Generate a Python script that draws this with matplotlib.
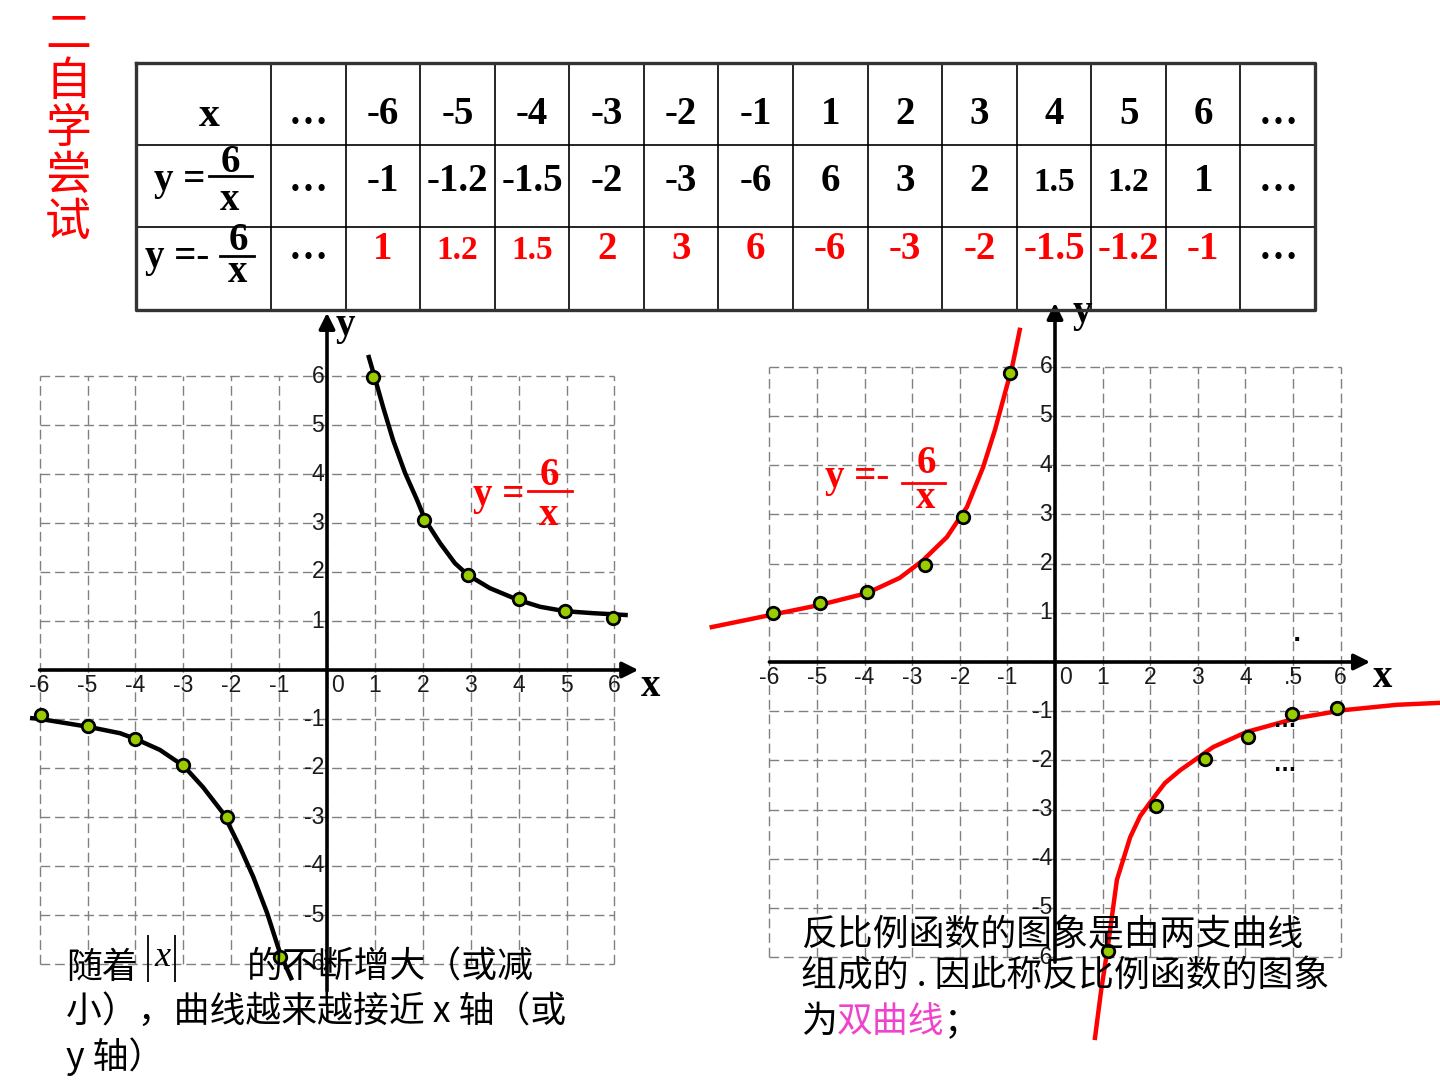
import matplotlib
matplotlib.use("Agg")
import matplotlib.pyplot as plt

# ---- table content ----
x_vals = ["-6", "-5", "-4", "-3", "-2", "-1", "1", "2", "3", "4", "5", "6"]
y_pos_vals = ["-1", "-1.2", "-1.5", "-2", "-3", "-6", "6", "3", "2", "1.5", "1.2", "1"]
y_neg_vals = ["1", "1.2", "1.5", "2", "3", "6", "-6", "-3", "-2", "-1.5", "-1.2", "-1"]
title_chars = "二自学尝试"

# ---- left graph: y = 6/x ----
left_pts_x = [-5.98, -4.99, -4.0, -3.0, -2.09, -0.98, 0.96, 2.03, 2.94, 4.01, 4.97, 5.97]
left_pts_y = [-0.92, -1.14, -1.41, -1.94, -3.0, -5.86, 5.98, 3.06, 1.94, 1.45, 1.2, 1.06]
left_curve1_x = [0.86, 1.0, 1.17, 1.38, 1.63, 1.88, 2.05, 2.36, 2.67, 2.94, 3.4, 3.99, 4.45, 4.97, 5.55, 6.28]
left_curve1_y = [6.43, 5.96, 5.37, 4.69, 4.02, 3.47, 3.06, 2.59, 2.18, 1.94, 1.67, 1.43, 1.29, 1.2, 1.16, 1.12]
left_curve2_x = [-6.2, -5.98, -4.98, -4.32, -3.99, -3.49, -2.99, -2.59, -2.17, -1.82, -1.54, -1.25, -0.98, -0.73]
left_curve2_y = [-0.98, -1.0, -1.16, -1.29, -1.41, -1.63, -1.96, -2.39, -2.92, -3.61, -4.22, -4.96, -5.78, -6.33]

# ---- right graph: y = -6/x ----
right_pts_x = [-5.92, -4.94, -3.95, -2.73, -1.93, -0.95, 1.11, 2.12, 3.15, 4.05, 4.98, 5.92]
right_pts_y = [1.0, 1.2, 1.42, 1.97, 2.95, 5.87, -5.87, -2.93, -1.97, -1.52, -1.06, -0.93]
right_curve1_x = [-7.21, -5.95, -4.94, -3.95, -3.26, -2.77, -2.27, -1.85, -1.51, -1.26, -1.05, -0.9, -0.74]
right_curve1_y = [0.71, 0.96, 1.16, 1.4, 1.71, 2.07, 2.54, 3.15, 3.96, 4.72, 5.47, 6.0, 6.75]
right_curve2_x = [0.84, 0.97, 1.11, 1.3, 1.58, 1.79, 2.04, 2.31, 2.63, 3.32, 4.03, 5.08, 6.05, 7.18, 8.09]
right_curve2_y = [-7.64, -6.67, -5.79, -4.43, -3.56, -3.13, -2.8, -2.46, -2.2, -1.73, -1.42, -1.14, -0.98, -0.87, -0.83]

ticks = list(range(-6, 7))
left_xlabels = ["-6", "-5", "-4", "-3", "-2", "-1", "0", "1", "2", "3", "4", "5", "6"]
right_xlabels = ["-6", "-5", "-4", "-3", "-2", "-1", "0", "1", "2", "3", "4", ".5", "6"]

W, H = 1440, 1080
fig = plt.figure(figsize=(14.4, 10.8), dpi=100)

SERIF = 'Liberation Serif'
TICKF = ['Liberation Sans Narrow', 'Liberation Sans']
CJK = ['Noto Sans CJK SC', 'DejaVu Sans']


def add_plot_axes(ox, oy, ux, uy, xlim, ylim):
    left = ox + ux * xlim[0]
    right = ox + ux * xlim[1]
    top = oy - uy * ylim[1]
    bottom = oy - uy * ylim[0]
    ax = fig.add_axes([left / W, 1 - bottom / H, (right - left) / W, (bottom - top) / H])
    ax.set_xlim(xlim)
    ax.set_ylim(ylim)
    ax.axis('off')
    return ax


def draw_frame(ax, xlabels, x_tip, y_tip, y_bot, xl_pos, yl_pos):
    ax.vlines(ticks, -6, 6, colors='#808080', linestyles=(0, (7, 3.5)), lw=1)
    ax.hlines(ticks, -6, 6, colors='#808080', linestyles=(0, (7, 3.5)), lw=1)
    arrow = dict(arrowstyle='-|>', color='k', lw=2.6, mutation_scale=24,
                 shrinkA=0, shrinkB=0)
    ax.annotate('', xy=(x_tip, 0), xytext=(-6, 0), arrowprops=arrow)
    ax.annotate('', xy=(0, y_tip), xytext=(0, y_bot), arrowprops=arrow)
    for t, lab in zip(ticks, xlabels):
        xx = 0.22 if t == 0 else t
        ax.text(xx, -0.32, lab, ha='center', va='center', fontsize=16.5,
                family=TICKF, color='#1a1a1a')
    for t in ticks:
        if t == 0:
            continue
        ax.text(-0.06, t, str(t), ha='right', va='center', fontsize=16.5,
                family=TICKF, color='#1a1a1a')
    ax.text(*xl_pos, 'x', ha='center', va='center', fontsize=28,
            family=SERIF, weight='bold')
    ax.text(*yl_pos, 'y', ha='center', va='center', fontsize=28,
            family=SERIF, weight='bold')


# left plot
axL = add_plot_axes(327, 670, 47.9, 49.0, (-6.8, 7.0), (-7.0, 7.4))
draw_frame(axL, left_xlabels, 6.5, 7.29, -6.55, (6.76, -0.33), (0.38, 7.04))
axL.plot(left_curve1_x, left_curve1_y, color='k', lw=3.2, solid_capstyle='butt')
axL.plot(left_curve2_x, left_curve2_y, color='k', lw=3.2, solid_capstyle='butt')
axL.plot(left_pts_x, left_pts_y, 'o', ms=9, mfc='#99cc00', mec='k', mew=2, zorder=5)

# right plot
axR = add_plot_axes(1055, 662, 47.6, 49.2, (-7.4, 8.1), (-7.9, 7.4))
draw_frame(axR, right_xlabels, 6.62, 7.3, -6.1, (6.89, -0.31), (0.57, 7.1))
axR.plot(right_curve1_x, right_curve1_y, color='#ff0000', lw=3.2)
axR.plot(right_curve2_x, right_curve2_y, color='#ff0000', lw=3.2)
axR.plot(right_pts_x, right_pts_y, 'o', ms=9, mfc='#99cc00', mec='k', mew=2, zorder=5)
axR.text(5.08, 0.55, '.', ha='center', va='center', fontsize=16, weight='bold')
axR.text(4.83, -1.2, '...', ha='center', va='center', fontsize=14, weight='bold')
axR.text(4.83, -2.1, '...', ha='center', va='center', fontsize=14, weight='bold')

# overlay in pixel coordinates
ov = fig.add_axes([0, 0, 1, 1])
ov.set_xlim(0, W)
ov.set_ylim(H, 0)
ov.axis('off')

# title (vertical)
for i, ch in enumerate(title_chars):
    ov.text(68, 35 + i * 47, ch, ha='center', va='center', fontsize=33,
            family=CJK, color='#ff0000')

# table grid
tx0, tx1 = 136, 1315
col0 = 271
rows_y = [63, 145, 227, 310]
ncols = 14
cw = (tx1 - col0) / ncols
col_edges = [col0 + i * cw for i in range(ncols + 1)]
ov.hlines(rows_y[1:-1], tx0, tx1, colors='k', lw=1.2)
ov.vlines(col_edges[:-1], rows_y[0], rows_y[-1], colors='k', lw=1.2)
ov.plot([tx0, tx1, tx1, tx0, tx0], [rows_y[0], rows_y[0], rows_y[-1], rows_y[-1], rows_y[0]],
        color='#333333', lw=2.4)

row_base = [124, 191, 259]
row_cols = ['k', 'k', '#ff0000']
for r, vals in enumerate([x_vals, y_pos_vals, y_neg_vals]):
    cells = ['…'] + vals + ['…']
    for c, lab in enumerate(cells):
        cx = col_edges[c] + cw / 2
        col = 'k' if lab == '…' else row_cols[r]
        fs = 24 if lab in ('1.2', '1.5') else 28
        ov.text(cx, row_base[r], lab, ha='center', va='baseline', fontsize=fs,
                family=SERIF, weight='bold', color=col)

# row labels
ov.text(209, 126, 'x', ha='center', va='baseline', fontsize=30, family=SERIF, weight='bold')
ov.text(154, 190, 'y =', ha='left', va='baseline', fontsize=28, family=SERIF, weight='bold')
ov.text(230, 172, '6', ha='center', va='baseline', fontsize=28, family=SERIF, weight='bold')
ov.plot([209, 252], [176, 176], color='k', lw=2)
ov.text(230, 210, 'x', ha='center', va='baseline', fontsize=28, family=SERIF, weight='bold')
ov.text(145, 267, 'y =-', ha='left', va='baseline', fontsize=28, family=SERIF, weight='bold')
ov.text(238, 250, '6', ha='center', va='baseline', fontsize=28, family=SERIF, weight='bold')
ov.plot([220, 254], [256, 256], color='k', lw=2)
ov.text(238, 282, 'x', ha='center', va='baseline', fontsize=28, family=SERIF, weight='bold')

# formula labels on the graphs
red = '#ff0000'
ov.text(473, 505, 'y =', ha='left', va='baseline', fontsize=28, family=SERIF, weight='bold', color=red)
ov.text(549, 485, '6', ha='center', va='baseline', fontsize=28, family=SERIF, weight='bold', color=red)
ov.plot([528, 572], [491, 491], color=red, lw=2)
ov.text(549, 525, 'x', ha='center', va='baseline', fontsize=28, family=SERIF, weight='bold', color=red)
ov.text(825, 487, 'y =-', ha='left', va='baseline', fontsize=28, family=SERIF, weight='bold', color=red)
ov.text(926, 473, '6', ha='center', va='baseline', fontsize=28, family=SERIF, weight='bold', color=red)
ov.plot([902, 945], [483, 483], color=red, lw=2)
ov.text(926, 508, 'x', ha='center', va='baseline', fontsize=28, family=SERIF, weight='bold', color=red)

# explanatory texts
fs_c = 25.8
ov.text(66, 968, '随着', ha='left', va='center', fontsize=fs_c, family=CJK)
ov.vlines([148, 175], 935, 982, colors='k', lw=1.3)
ov.text(162, 958, 'x', ha='center', va='center', fontsize=26, family=SERIF, style='italic')
ov.text(247, 968, '的不断增大（或减', ha='left', va='center', fontsize=fs_c, family=CJK)
ov.text(66, 1012, '小），曲线越来越接近 x 轴（或', ha='left', va='center', fontsize=fs_c, family=CJK)
ov.text(66, 1057, 'y 轴）', ha='left', va='center', fontsize=fs_c, family=CJK)

ov.text(801, 935, '反比例函数的图象是由两支曲线', ha='left', va='center', fontsize=fs_c, family=CJK)
ov.text(801, 977, '组成的 . 因此称反比例函数的图象', ha='left', va='center', fontsize=fs_c, family=CJK)
ov.text(801, 1022, '为', ha='left', va='center', fontsize=fs_c, family=CJK)
ov.text(837, 1022, '双曲线', ha='left', va='center', fontsize=fs_c, family=CJK, color='#ee44cc')
ov.text(944, 1022, '；', ha='left', va='center', fontsize=fs_c, family=CJK)

fig.savefig('out.png', dpi=100)
